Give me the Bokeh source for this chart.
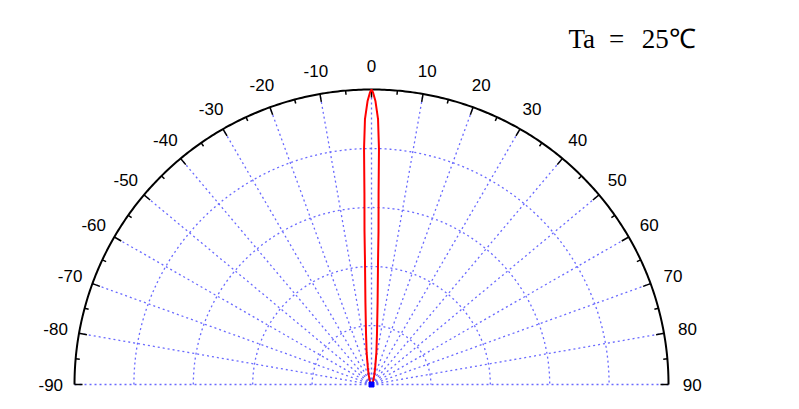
import numpy as np
from bokeh.plotting import figure
from bokeh.models import Range1d
from bokeh.core.properties import value
from bokeh.embed import file_html
from bokeh.resources import INLINE

# ---- data ----
tick_angles = [-90, -80, -70, -60, -50, -40, -30, -20, -10, 0, 10, 20, 30, 40, 50, 60, 70, 80, 90]
tick_labels = ["-90", "-80", "-70", "-60", "-50", "-40", "-30", "-20", "-10", "0",
               "10", "20", "30", "40", "50", "60", "70", "80", "90"]
minor_angles = [-85, -75, -65, -55, -45, -35, -25, -15, -5, 5, 15, 25, 35, 45, 55, 65, 75, 85]
grid_radii = [0.2, 0.4, 0.6, 0.8]

beam_angle = [-90, -45, -30, -22, -16, -12, -8.6, -6.2, -4.2, -3.0, -2.6, -2.1, -1.8, -1.4, -0.8, -0.3, 0,
              0.3, 0.8, 1.4, 1.8, 2.1, 2.6, 3.0, 4.2, 6.2, 8.6, 12, 16, 22, 30, 45, 90]
beam_intensity = [0, 0.003, 0.008, 0.018, 0.035, 0.06, 0.11, 0.17, 0.28, 0.42, 0.52, 0.65, 0.8, 0.9, 0.96, 0.99, 1.0,
                  0.99, 0.96, 0.9, 0.8, 0.65, 0.52, 0.42, 0.28, 0.17, 0.11, 0.06, 0.035, 0.018, 0.008, 0.003, 0]

title_parts = ["Ta", "=", "25℃"]

# ---- helpers (polar -> cartesian, angle measured from vertical) ----
def px(r, a):
    return np.asarray(r) * np.sin(np.radians(a))

def py(r, a):
    return np.asarray(r) * np.cos(np.radians(a))

p = figure(width=783, height=401, output_backend="svg", toolbar_location=None,
           x_range=Range1d(-1.2492, 1.3872), y_range=Range1d(-0.0576, 1.3017),
           min_border=0)
p.axis.visible = False
p.grid.visible = False
p.outline_line_color = None
p.background_fill_color = "white"

grid_color = "#6a6aff"

# radial grid lines
xs = [[0, float(px(1, a))] for a in tick_angles]
ys = [[0, float(py(1, a))] for a in tick_angles]
p.multi_line(xs, ys, line_color=grid_color, line_width=1.3, line_dash="2 3")

# circular grid arcs
arc_a = np.linspace(-90, 90, 361)
p.multi_line([list(px(r, arc_a)) for r in grid_radii], [list(py(r, arc_a)) for r in grid_radii],
             line_color=grid_color, line_width=1.3, line_dash="2 3")

# outer arc
p.line(px(1, arc_a), py(1, arc_a), line_color="black", line_width=2)

# ticks
tk_in_major = 0.973
tk_in_minor = 0.986
p.segment(x0=px(1, np.array(tick_angles)), y0=py(1, np.array(tick_angles)),
          x1=px(tk_in_major, np.array(tick_angles)), y1=py(tk_in_major, np.array(tick_angles)),
          line_color="black", line_width=1.5)
p.segment(x0=px(1, np.array(minor_angles)), y0=py(1, np.array(minor_angles)),
          x1=px(tk_in_minor, np.array(minor_angles)), y1=py(tk_in_minor, np.array(minor_angles)),
          line_color="black", line_width=1.5)

# tick labels
lab_r = 1.08
p.text(x=px(lab_r, np.array(tick_angles)), y=py(lab_r, np.array(tick_angles)), text=tick_labels,
       text_font=value("Liberation Sans"), text_font_size="17px", text_color="black",
       text_align="center", text_baseline="middle")

# beam curve
p.line(px(np.array(beam_intensity), np.array(beam_angle)), py(np.array(beam_intensity), np.array(beam_angle)),
       line_color="#ff0000", line_width=2)

p.scatter(x=[0], y=[0], size=5, color="#0000ff", marker="square")

# title (pieces spaced like the original monospaced layout)
p.text(x=[0.663, 0.8, 0.91], y=[1.172, 1.172, 1.172], text=title_parts,
       text_font=value("Liberation Serif"), text_font_size="27px", text_color="black",
       text_align="left", text_baseline="middle")

open("out.html", "w").write(file_html(p, INLINE))
